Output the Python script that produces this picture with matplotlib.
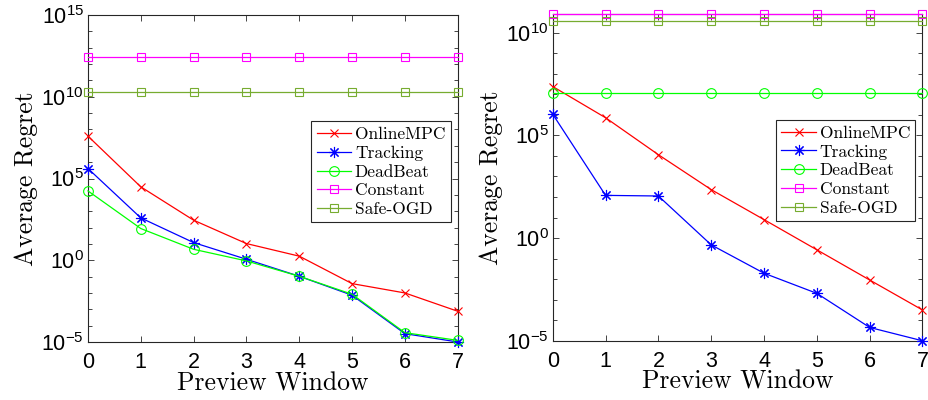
import numpy as np
import matplotlib
matplotlib.use('Agg')
import matplotlib.pyplot as plt
from matplotlib.ticker import FixedLocator, NullFormatter, LogFormatterMathtext

# preview window
window = [0, 1, 2, 3, 4, 5, 6, 7]

# left panel (log10 of average regret)
left_online = [7.59, 4.49, 2.45, 1.02, 0.25, -1.43, -2.0, -3.12]
left_tracking = [5.61, 2.59, 1.08, 0.06, -0.98, -2.14, -4.49, -5.0]
left_deadbeat = [4.24, 1.94, 0.67, -0.04, -0.98, -2.08, -4.43, -4.9]
left_constant = [12.45] * 8
left_safeogd = [10.29] * 8

# right panel (log10 of average regret)
right_online = [7.38, 5.86, 4.06, 2.36, 0.90, -0.57, -2.04, -3.50]
right_tracking = [6.03, 2.08, 2.05, -0.33, -1.71, -2.69, -4.35, -5.0]
right_deadbeat = [7.05] * 8
right_constant = [10.93] * 8
right_safeogd = [10.57] * 8

names = ['OnlineMPC', 'Tracking', 'DeadBeat', 'Constant', 'Safe-OGD']
colors = ['#ff0000', '#0000ff', '#00ff00', '#ff00ff', '#77ac30']
markers = ['x', (8, 2, 0), 'o', 's', 's']
msizes = [6, 8, 7, 6, 6]

serif = 'cmr10'
sans = 'Liberation Sans'


def panel(ax, series, ylim, ytop_decade):
    for vals, name, c, m, ms in zip(series, names, colors, markers, msizes):
        ax.plot(window, 10.0 ** np.array(vals), color=c, marker=m, ms=ms,
                mfc='none', mec=c, mew=0.8, lw=0.9, label=name, clip_on=False,
                zorder=3)
    ax.set_yscale('log')
    ax.set_xlim(0, 7)
    ax.set_ylim(*ylim)
    ax.set_xticks(window)
    ax.yaxis.set_major_locator(FixedLocator([10.0 ** k for k in range(-5, ytop_decade + 1, 5)]))
    ax.yaxis.set_major_formatter(LogFormatterMathtext())
    ax.yaxis.set_minor_locator(FixedLocator([10.0 ** k for k in range(-5, ytop_decade + 1)]))
    ax.yaxis.set_minor_formatter(NullFormatter())
    ax.tick_params(which='both', direction='in', top=True, right=True,
                   color='#262626', width=0.6)
    ax.tick_params(which='major', length=4, labelsize=15.5)
    ax.tick_params(axis='x', which='major', pad=7)
    ax.tick_params(axis='y', which='major', pad=3)
    ax.tick_params(which='minor', length=3)
    for lab in ax.get_xticklabels() + ax.get_yticklabels():
        lab.set_fontfamily(sans)
    for s in ax.spines.values():
        s.set_color('#262626')
        s.set_linewidth(0.8)
    ax.set_xlabel('Preview Window', fontfamily=serif, fontsize=18.5, labelpad=-1)
    ax.set_ylabel('Average Regret', fontfamily=serif, fontsize=18.5, labelpad=2)
    leg = ax.legend(loc='center right', bbox_to_anchor=(0.99, 0.52),
                    prop={'family': serif, 'size': 12.5}, fancybox=False,
                    framealpha=1, edgecolor='#262626', handlelength=2.0,
                    handletextpad=0.2, borderpad=0.3, labelspacing=0.2,
                    borderaxespad=0.2)
    leg.get_frame().set_linewidth(0.8)


fig = plt.figure(figsize=(9.29, 4.0), dpi=100)
ax1 = fig.add_axes([0.0947, 0.145, 0.398, 0.8175])
ax2 = fig.add_axes([0.595, 0.148, 0.398, 0.818])

panel(ax1, [left_online, left_tracking, left_deadbeat, left_constant, left_safeogd],
      (1e-5, 1e15), 15)
panel(ax2, [right_online, right_tracking, right_deadbeat, right_constant, right_safeogd],
      (1e-5, 10 ** 10.93), 10)

fig.savefig('out.png', dpi=100)
